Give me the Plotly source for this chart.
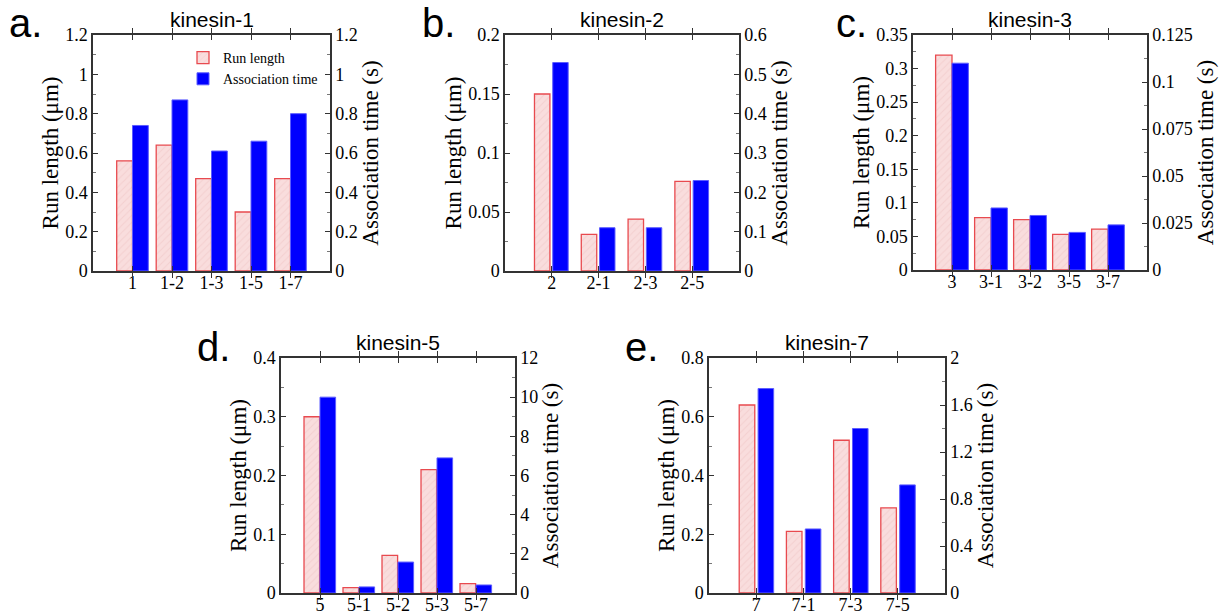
import plotly.graph_objects as go

W, H = 1225, 614

# ---------------- data ----------------
cats_a = ["1", "1-2", "1-3", "1-5", "1-7"]
run_a = [0.56, 0.64, 0.47, 0.30, 0.47]
assoc_a = [0.74, 0.87, 0.61, 0.66, 0.80]

cats_b = ["2", "2-1", "2-3", "2-5"]
run_b = [0.15, 0.031, 0.044, 0.076]
assoc_b = [0.53, 0.11, 0.11, 0.23]

cats_c = ["3", "3-1", "3-2", "3-5", "3-7"]
run_c = [0.32, 0.078, 0.075, 0.053, 0.061]
assoc_c = [0.11, 0.033, 0.029, 0.020, 0.024]

cats_d = ["5", "5-1", "5-2", "5-3", "5-7"]
run_d = [0.30, 0.009, 0.064, 0.21, 0.016]
assoc_d = [10.0, 0.31, 1.58, 6.9, 0.41]

cats_e = ["7", "7-1", "7-3", "7-5"]
run_e = [0.64, 0.21, 0.52, 0.29]
assoc_e = [1.74, 0.545, 1.40, 0.92]

titles = ["kinesin-1", "kinesin-2", "kinesin-3", "kinesin-5", "kinesin-7"]
letters = ["a.", "b.", "c.", "d.", "e."]

# ---------------- layout geometry (pixels) ----------------
panels = [
    dict(cats=cats_a, run=run_a, assoc=assoc_a, px=(93, 330), py=(35, 271),
         yl=(1.2, 0.2, 0.1), yr=(1.2, 0.2, 0.1), bw=0.40, ro=-0.40, bo=0.0,
         letter_xy=(7, 23)),
    dict(cats=cats_b, run=run_b, assoc=assoc_b, px=(505, 739), py=(35, 271),
         yl=(0.2, 0.05, 0.025), yr=(0.6, 0.1, 0.05), bw=0.33, ro=-0.37, bo=0.02,
         letter_xy=(420, 23)),
    dict(cats=cats_c, run=run_c, assoc=assoc_c, px=(913, 1147), py=(35, 270),
         yl=(0.35, 0.05, 0.025), yr=(0.125, 0.025, 0.0125), bw=0.42, ro=-0.42, bo=0.0,
         letter_xy=(834, 23)),
    dict(cats=cats_d, run=run_d, assoc=assoc_d, px=(281, 515), py=(358, 593),
         yl=(0.4, 0.1, 0.05), yr=(12, 2, 1), bw=0.40, ro=-0.41, bo=0.0,
         letter_xy=(195, 347)),
    dict(cats=cats_e, run=run_e, assoc=assoc_e, px=(709, 945), py=(358, 593),
         yl=(0.8, 0.2, 0.1), yr=(2, 0.4, 0.2), bw=0.33, ro=-0.36, bo=0.04,
         letter_xy=(623, 347)),
]

AX = "#333333"
SERIF = "Liberation Serif"
SANS = "Liberation Sans"
TICK = 18

fig = go.Figure()
layout = dict(
    width=W, height=H, margin=dict(l=0, r=0, t=0, b=0, autoexpand=False),
    paper_bgcolor="white", plot_bgcolor="white",
    barmode="overlay", showlegend=True,
    font=dict(family=SERIF, color="black"),
    legend=dict(x=183 / W, y=1 - 42 / H, xanchor="left", yanchor="top",
                bgcolor="rgba(0,0,0,0)", font=dict(family=SERIF, size=14),
                tracegroupgap=0, itemwidth=30),
)
annotations = []

for i, p in enumerate(panels):
    xn = "" if i == 0 else str(i + 1)
    yl_n = str(2 * i + 1) if i > 0 else ""
    yr_n = str(2 * i + 2)
    xref = "x" + xn
    ylref = "y" + yl_n
    yrref = "y" + yr_n
    n = len(p["cats"])
    x0, x1 = p["px"][0] / W, p["px"][1] / W
    y0, y1 = 1 - p["py"][1] / H, 1 - p["py"][0] / H

    fig.add_trace(go.Bar(
        x=p["cats"], y=p["run"], xaxis=xref, yaxis=ylref,
        name="Run length", showlegend=(i == 0), legendrank=1,
        width=p["bw"], offset=p["ro"],
        marker=dict(color="#f9dcdc",
                    line=dict(color="#e84a4f", width=1.3),
                    pattern=dict(shape="/", bgcolor="#f9dddd", fgcolor="#f4d0d0",
                                 size=5, solidity=0.2, fillmode="replace")),
    ))
    fig.add_trace(go.Bar(
        x=p["cats"], y=p["assoc"], xaxis=xref, yaxis=yrref,
        name="Association time", showlegend=(i == 0), legendrank=2,
        width=p["bw"], offset=p["bo"],
        marker=dict(color="#0000ff", line=dict(color="#5c5cff", width=1)),
    ))

    layout["xaxis" + xn] = dict(
        domain=[x0, x1], anchor=ylref, type="category",
        categoryorder="array", categoryarray=p["cats"],
        range=[-1, n], showline=True, linecolor=AX, linewidth=1.5,
        mirror="allticks", ticks="inside", ticklen=5, tickcolor=AX, tickwidth=1,
        showgrid=False, zeroline=False, automargin=False, ticklabelstandoff=-5,
        tickfont=dict(family=SERIF, size=TICK, color="black"),
    )
    top, dt, mdt = p["yl"]
    layout["yaxis" + yl_n] = dict(
        domain=[y0, y1], anchor=xref, range=[0, top], dtick=dt, tick0=0,
        showline=True, linecolor=AX, linewidth=1.5,
        ticks="inside", ticklen=5, tickcolor=AX, tickwidth=1,
        minor=dict(dtick=mdt, ticks="inside", ticklen=3, tickcolor="#777", showgrid=False),
        showgrid=False, zeroline=False, automargin=False,
        tickfont=dict(family=SERIF, size=TICK, color="black"),
        title=dict(text="Run length (μm)", font=dict(family=SERIF, size=23, color="black"),
                   standoff=0),
    )
    topr, dtr, mdtr = p["yr"]
    layout["yaxis" + yr_n] = dict(
        overlaying=ylref, side="right", anchor=xref, range=[0, topr], dtick=dtr, tick0=0,
        showline=True, linecolor=AX, linewidth=1.5,
        ticks="inside", ticklen=5, tickcolor=AX, tickwidth=1,
        minor=dict(dtick=mdtr, ticks="inside", ticklen=3, tickcolor="#777", showgrid=False),
        showgrid=False, zeroline=False, automargin=False,
        tickfont=dict(family=SERIF, size=TICK, color="black"),
        title=dict(text="Association time (s)", font=dict(family=SERIF, size=23, color="black"),
                   standoff=4),
    )

    # panel title
    annotations.append(dict(
        text=titles[i], x=(x0 + x1) / 2, y=y1, xref="paper", yref="paper",
        xanchor="center", yanchor="bottom", yshift=2, showarrow=False,
        font=dict(family=SANS, size=21, color="black"),
    ))
    lx, ly = p["letter_xy"]
    annotations.append(dict(
        text=letters[i], x=lx / W, y=1 - ly / H, xref="paper", yref="paper",
        xanchor="left", yanchor="middle", showarrow=False,
        font=dict(family=SANS, size=40, color="black"),
    ))

layout["annotations"] = annotations
fig.update_layout(**layout)
fig.write_html(
    "out.html",
    config={"displayModeBar": False},
    post_script="document.body.style.margin='0';document.body.style.padding='0';",
)
